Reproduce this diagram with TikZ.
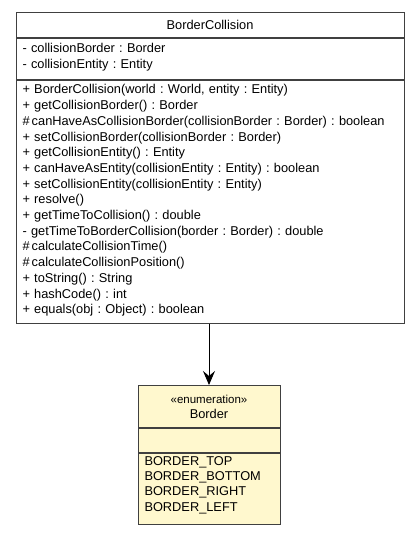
\documentclass[tikz,border=0pt]{standalone}
\usepackage{fontspec}
\setmainfont{Liberation Sans}
\frenchspacing
\usetikzlibrary{positioning}
\usetikzlibrary{arrows.meta}

\begin{document}
\begin{tikzpicture}[line cap=rect,line join=miter,x=1pt,y=-1pt,
  every node/.style={font=\fontsize{12.8}{15.7}\selectfont},
  umlpart/.style={draw=black!75,line width=1.pt,rectangle,inner xsep=6pt,inner ysep=0pt,anchor=north},
  classpart/.style={umlpart,fill=white,minimum width=388pt,text width=375pt},
  enumpart/.style={umlpart,fill=enumfill,minimum width=142pt,text width=129pt},
  >={Stealth[length=14pt,width=12pt,inset=5pt]}]
\definecolor{enumfill}{RGB}{255,248,206}
\useasboundingbox (0,0) rectangle (419,533);
% class BorderCollision
\node [classpart,align=center,minimum height=25pt] (bchead) at (210,12) {BorderCollision};
\node [classpart,align=left,minimum height=41pt,below=0pt of bchead,
  font=\fontsize{12.8}{16}\selectfont] (bcattr) {%
- collisionBorder : Border\\
- collisionEntity : Entity\vphantom{g}\vspace*{4pt}};
\node [classpart,align=left,minimum height=243pt,below=0pt of bcattr] (bcops) {%
+ BorderCollision(world : World, entity : Entity)\\
+ getCollisionBorder() : Border\\
\#\,canHaveAsCollisionBorder(collisionBorder : Border) : boolean\\
+ setCollisionBorder(collisionBorder : Border)\\
+ getCollisionEntity() : Entity\\
+ canHaveAsEntity(collisionEntity : Entity) : boolean\\
+ setCollisionEntity(collisionEntity : Entity)\\
+ resolve()\\
+ getTimeToCollision() : double\\
- getTimeToBorderCollision(border : Border) : double\\
\#\,calculateCollisionTime()\\
\#\,calculateCollisionPosition()\\
+ toString() : String\\
+ hashCode() : int\\
+ equals(obj : Object) : boolean\vphantom{g}\vspace*{3pt}};
% enumeration Border
\node [enumpart,align=center,minimum height=42pt,font=\fontsize{12.8}{15}\selectfont] (bdhead) at (209,385)
  {{\fontsize{11.5}{15}\selectfont «enumeration»}\\Border};
\node [enumpart,minimum height=24pt,below=0pt of bdhead] (bdattr) {};
\node [enumpart,align=left,minimum height=71pt,below=0pt of bdattr,
  font=\fontsize{12.8}{15.3}\selectfont] (bdvals) {%
BORDER\_TOP\\
BORDER\_BOTTOM\\
BORDER\_RIGHT\\
BORDER\_LEFT\vphantom{g}\vspace*{8pt}};
\draw [->,line width=1.pt] (bcops.south -| bdhead.north) -- (bdhead.north);
\end{tikzpicture}
\end{document}
